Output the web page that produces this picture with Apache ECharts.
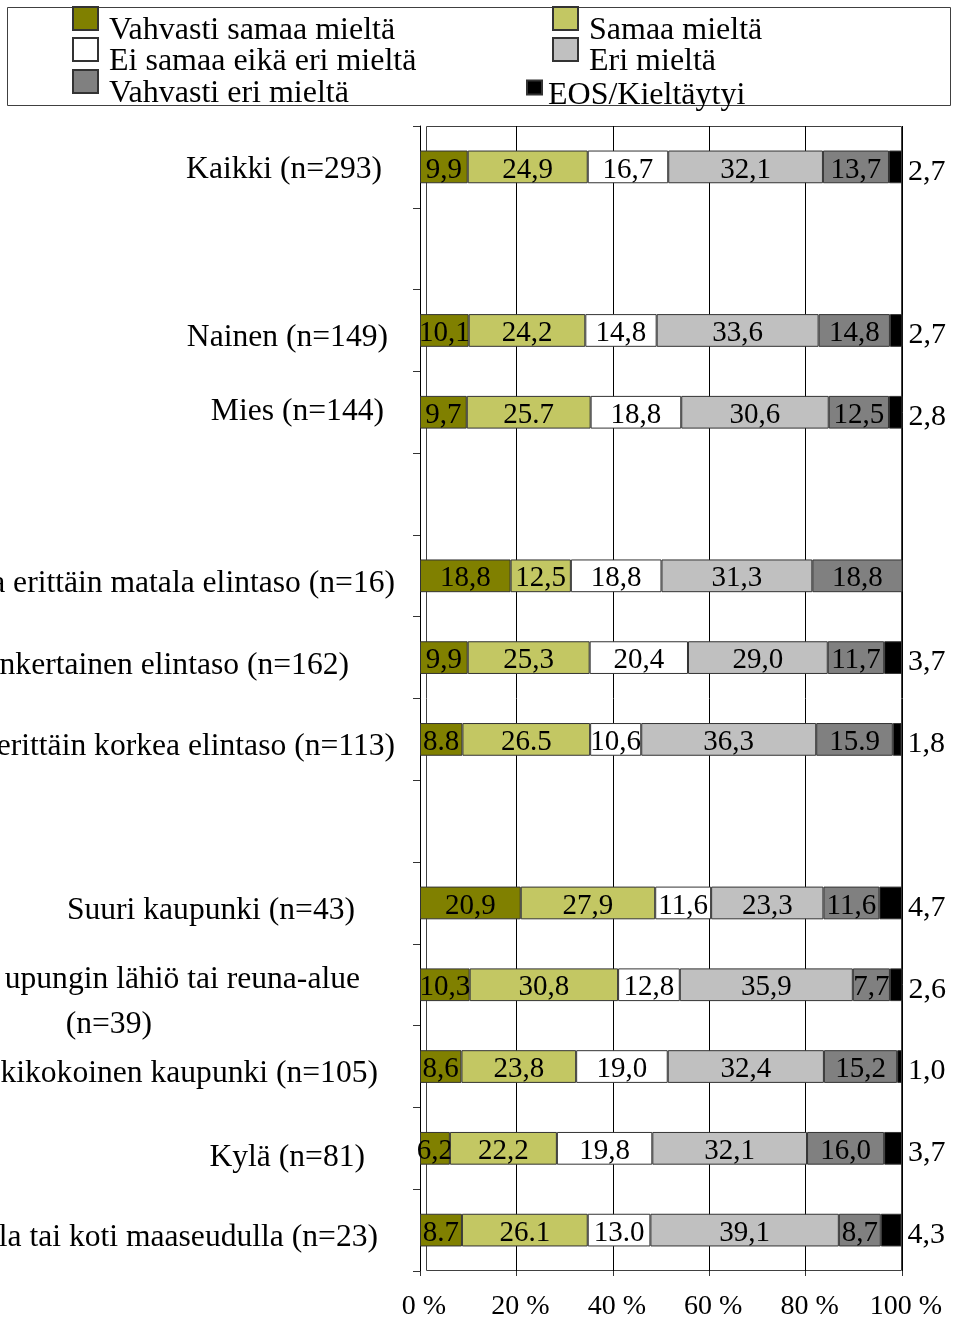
<!DOCTYPE html>
<html>
<head>
<meta charset="utf-8">
<script src="https://cdn.jsdelivr.net/npm/echarts@6/dist/echarts.min.js"></script>
<style>
  html, body { margin: 0; padding: 0; background: #fff; }
  #Chart { width: 955px; height: 1317px; }
</style>
</head>
<body>
<div id="Chart"></div>
<script>
// rivit ylhäältä alas, tyhjät rivit ovat välejä
const rows = [
  "Kaikki (n=293)", "", "Nainen (n=149)", "Mies (n=144)", "",
  "a erittäin matala elintaso (n=16)", "nkertainen elintaso (n=162)", "erittäin korkea elintaso (n=113)", "",
  "Suuri kaupunki (n=43)", "upungin lähiö tai reuna-alue\n(n=39)", "kikokoinen kaupunki (n=105)",
  "Kylä (n=81)", "la tai koti maaseudulla (n=23)"
]
const seriesNames = [
  "Vahvasti samaa mieltä", "Samaa mieltä", "Ei samaa eikä eri mieltä",
  "Eri mieltä", "Vahvasti eri mieltä", "EOS/Kieltäytyi"
]
const vahvastiSamaa = [9.9, null, 10.1, 9.7, null, 18.8, 9.9, 8.8, null, 20.9, 10.3, 8.6, 6.2, 8.7]
const samaa = [24.9, null, 24.2, 25.7, null, 12.5, 25.3, 26.5, null, 27.9, 30.8, 23.8, 22.2, 26.1]
const eiSamaaEikaEri = [16.7, null, 14.8, 18.8, null, 18.8, 20.4, 10.6, null, 11.6, 12.8, 19.0, 19.8, 13.0]
const eri = [32.1, null, 33.6, 30.6, null, 31.3, 29.0, 36.3, null, 23.3, 35.9, 32.4, 32.1, 39.1]
const vahvastiEri = [13.7, null, 14.8, 12.5, null, 18.8, 11.7, 15.9, null, 11.6, 7.7, 15.2, 16.0, 8.7]
const eos = [2.7, null, 2.7, 2.8, null, 0, 3.7, 1.8, null, 4.7, 2.6, 1.0, 3.7, 4.3]
// nämä luvut on kuvassa kirjoitettu pisteellä: [sarja, rivi]
const pointLabels = [[1, 3], [0, 7], [1, 7], [4, 7], [0, 13], [1, 13], [2, 13]]
const xTicks = { min: 0, max: 100, step: 20 }

const serif = "\"Liberation Serif\", \"Times New Roman\", serif"
const colors = ["#808000", "#C3C763", "#FFFFFF", "#C0C0C0", "#808080", "#000000"]
const values = [vahvastiSamaa, samaa, eiSamaaEikaEri, eri, vahvastiEri, eos]
// nimikkeiden siirrot (oikea reuna akselista, pystysiirto)
const labelRight = [38, 0, 32, 36, 0, 25, 71, 25, 0, 65, 60, 42, 55, 42]
const labelDown = [3, 0, 7, -1, 0, 8, 8, 7, 0, 8, 17, 7, 9, 8]

const chart = echarts.init(document.getElementById("Chart"), null, { renderer: "canvas" })

const fmt = (s) => (p) => {
  if (!p.value) return ""
  const t = p.value.toFixed(1)
  return pointLabels.some(([a, b]) => a === s && b === p.dataIndex) ? t : t.replace(".", ",")
}

const series = values.map((data, s) => ({
  name: seriesNames[s],
  type: "bar",
  stack: "total",
  barWidth: "40%",
  z: 2 + s,
  data: data,
  itemStyle: { color: colors[s], borderColor: "#333", borderWidth: 1 },
  label: {
    show: true,
    position: s === 5 ? "right" : "inside",
    distance: 6,
    offset: [0, s === 5 ? 5 : 3],
    color: "#000",
    fontFamily: serif,
    fontSize: s === 5 ? 30 : 29,
    formatter: fmt(s)
  },
  emphasis: { disabled: true }
}))

const legendRich = (padTop, padLeft) => ({
  t: { fontFamily: serif, fontSize: 32, lineHeight: 32, color: "#000", padding: [padTop, 0, 0, padLeft] }
})
const legendAt = (s, left, top) => ({
  data: [seriesNames[s]], left: left, top: top, orient: "vertical",
  padding: 0, itemWidth: 25, itemHeight: 23, icon: "rect", selectedMode: false,
  formatter: (name) => "{t|" + name + "}",
  textStyle: { rich: legendRich(24, 6) }
})

const option = {
  animation: false,
  backgroundColor: "#fff",
  legend: [
    legendAt(0, 72, -9.5),
    legendAt(2, 72, 21.5),
    legendAt(4, 72, 53.5),
    legendAt(1, 552, -9.5),
    legendAt(3, 552, 21.5),
    {
      data: [seriesNames[5]], left: 526, top: 63.5, padding: 0, itemWidth: 15, itemHeight: 14,
      icon: "rect", selectedMode: false,
      formatter: (name) => "{t|" + name + "}",
      textStyle: { rich: legendRich(16, 1) }
    }
  ],
  graphic: [
    { type: "rect", shape: { x: 7.5, y: 7.5, width: 943, height: 98 }, style: { fill: "none", stroke: "#404040", lineWidth: 1 } },
    { type: "rect", shape: { x: 426.5, y: 126.5, width: 475, height: 1144 }, style: { fill: "none", stroke: "#404040", lineWidth: 1 } }
  ],
  grid: { left: 420, right: 53, top: 126, bottom: 46, containLabel: false, outerBoundsMode: "none" },
  xAxis: {
    type: "value",
    min: xTicks.min,
    max: xTicks.max,
    interval: xTicks.step,
    axisLine: { show: false },
    axisTick: { show: true, length: 5, lineStyle: { color: "#333" } },
    splitLine: { show: true, lineStyle: { color: "#000", width: 1 } },
    axisLabel: {
      formatter: "{value} %", margin: 22, padding: [0, 0, 0, 8],
      color: "#000", fontFamily: serif, fontSize: 28
    }
  },
  yAxis: {
    type: "category",
    inverse: true,
    data: rows.map((r, i) => ({
      value: r,
      textStyle: {
        padding: labelDown[i] >= 0
          ? [labelDown[i] * 2, labelRight[i], 0, 0]
          : [0, labelRight[i], -labelDown[i] * 2, 0]
      }
    })),
    axisLine: { show: true, lineStyle: { color: "#000" } },
    axisTick: { show: true, interval: 0, length: 7, lineStyle: { color: "#333" } },
    axisLabel: {
      interval: 0,
      margin: 0,
      color: "#000",
      fontFamily: serif,
      fontSize: 31.6,
      formatter: (v) => {
        if (!v.includes("\n")) return v
        const [a, b] = v.split("\n")
        return "{a|" + a + "}\n{b|" + b + "}"
      },
      rich: {
        a: { fontFamily: serif, fontSize: 31.6, color: "#000", lineHeight: 45 },
        b: { fontFamily: serif, fontSize: 31.6, color: "#000", lineHeight: 45, align: "left", padding: [0, 0, 0, 61] }
      }
    }
  },
  series: series
}
chart.setOption(option)
</script>
</body>
</html>
